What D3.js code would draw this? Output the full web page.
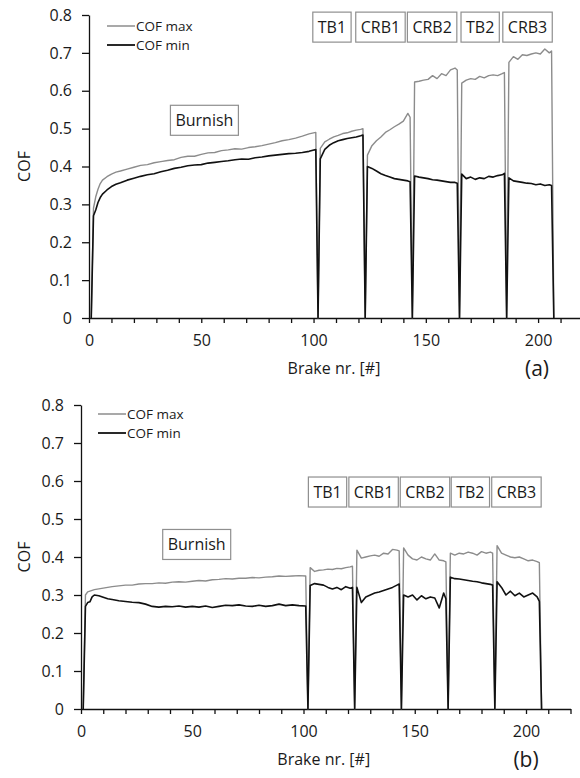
<!DOCTYPE html>
<meta charset="utf-8">
<style>
  body { margin: 0; background: #fff; }
</style>
<div id="container"></div>
<script src="https://cdn.jsdelivr.net/npm/d3@7"></script>
<script>

// brake numbers shared by both tests (0 values mark the breaks between sections)
const brakes = [
  1, 2, 3, 4, 5, 6, 8, 10, 12, 14, 17, 20, 23, 26, 29, 32, 35, 38, 41, 44, 47, 50, 53, 56, 59, 62, 65, 68, 71, 74, 77, 80, 83, 86, 89, 92, 95, 98, 101,
  102, 103, 105, 107, 109, 111, 113, 115, 117, 119, 121, 122,
  123, 124, 126, 128, 130, 132, 134, 136, 138, 140, 142, 143,
  144, 145, 147, 149, 151, 153, 155, 157, 159, 161, 163, 164,
  165, 166, 168, 170, 172, 174, 176, 178, 180, 182, 184, 185,
  186, 187, 189, 191, 193, 195, 197, 199, 201, 203, 205, 206,
  207
];

// (a)
const cofMaxA = [
  0, 0.29, 0.32, 0.34, 0.355, 0.364, 0.373, 0.38, 0.385, 0.388, 0.393, 0.398, 0.403, 0.405, 0.41, 0.413, 0.416, 0.418, 0.424, 0.427, 0.427, 0.432, 0.436, 0.437, 0.442, 0.444, 0.447, 0.446, 0.45, 0.452, 0.455, 0.459, 0.463, 0.468, 0.471, 0.475, 0.48, 0.486, 0.49,
  0, 0.448, 0.465, 0.472, 0.478, 0.482, 0.487, 0.489, 0.493, 0.496, 0.498, 0.5,
  0, 0.43, 0.455, 0.468, 0.478, 0.49, 0.497, 0.505, 0.512, 0.52, 0.54, 0.53,
  0, 0.623, 0.625, 0.628, 0.63, 0.64, 0.632, 0.645, 0.64, 0.655, 0.66, 0.655,
  0, 0.62, 0.628, 0.632, 0.63, 0.638, 0.634, 0.64, 0.642, 0.64, 0.645, 0.648,
  0, 0.675, 0.69, 0.683, 0.695, 0.693, 0.697, 0.7, 0.697, 0.71, 0.7, 0.705,
  0
];
const cofMinA = [
  0, 0.27, 0.285, 0.305, 0.318, 0.327, 0.338, 0.347, 0.353, 0.357, 0.364, 0.369, 0.374, 0.378, 0.381, 0.386, 0.39, 0.395, 0.398, 0.402, 0.404, 0.405, 0.409, 0.411, 0.413, 0.415, 0.418, 0.42, 0.419, 0.423, 0.425, 0.428, 0.43, 0.432, 0.434, 0.435, 0.437, 0.44, 0.445,
  0, 0.42, 0.445, 0.456, 0.463, 0.468, 0.471, 0.474, 0.476, 0.478, 0.481, 0.483,
  0, 0.4, 0.395, 0.388, 0.381, 0.376, 0.372, 0.368, 0.366, 0.364, 0.362, 0.36,
  0, 0.375, 0.372, 0.37, 0.368, 0.365, 0.364, 0.362, 0.36, 0.358, 0.358, 0.356,
  0, 0.38, 0.368, 0.372, 0.366, 0.37, 0.368, 0.374, 0.372, 0.376, 0.378, 0.382,
  0, 0.37, 0.362, 0.36, 0.358, 0.356, 0.355, 0.352, 0.354, 0.35, 0.352, 0.35,
  0
];

// (b)
const cofMaxB = [
  0, 0.3, 0.308, 0.31, 0.312, 0.314, 0.316, 0.318, 0.32, 0.322, 0.324, 0.326, 0.326, 0.329, 0.33, 0.33, 0.332, 0.331, 0.334, 0.335, 0.334, 0.336, 0.338, 0.337, 0.34, 0.341, 0.343, 0.342, 0.344, 0.344, 0.346, 0.345, 0.347, 0.348, 0.35, 0.349, 0.35, 0.351, 0.35,
  0, 0.372, 0.362, 0.365, 0.366, 0.368, 0.367, 0.37, 0.369, 0.372, 0.374, 0.376,
  0, 0.418, 0.397, 0.4, 0.403, 0.405, 0.402, 0.41, 0.408, 0.42, 0.418, 0.416,
  0, 0.424, 0.405, 0.395, 0.392, 0.4, 0.395, 0.392, 0.408, 0.392, 0.39, 0.387,
  0, 0.41, 0.405, 0.41, 0.408, 0.413, 0.41, 0.405, 0.414, 0.41, 0.413, 0.41,
  0, 0.43, 0.41, 0.405, 0.4, 0.398, 0.4, 0.395, 0.39, 0.392, 0.388, 0.385,
  0
];
const cofMinB = [
  0, 0.27, 0.28, 0.282, 0.295, 0.3, 0.298, 0.294, 0.29, 0.288, 0.285, 0.283, 0.281, 0.28, 0.276, 0.27, 0.268, 0.27, 0.269, 0.271, 0.268, 0.27, 0.268, 0.271, 0.267, 0.27, 0.273, 0.272, 0.274, 0.271, 0.27, 0.273, 0.27, 0.272, 0.276, 0.272, 0.274, 0.272, 0.271,
  0, 0.325, 0.33, 0.328, 0.326, 0.32, 0.316, 0.32, 0.314, 0.322, 0.318, 0.32,
  0, 0.32, 0.28, 0.295, 0.3, 0.305, 0.308, 0.312, 0.316, 0.32, 0.326, 0.329,
  0, 0.3, 0.295, 0.3, 0.287, 0.298, 0.29, 0.295, 0.292, 0.266, 0.305, 0.29,
  0, 0.347, 0.343, 0.342, 0.34, 0.338, 0.336, 0.335, 0.332, 0.33, 0.328, 0.326,
  0, 0.335, 0.32, 0.3, 0.31, 0.298, 0.305, 0.295, 0.3, 0.305, 0.295, 0.283,
  0
];

const sections = ["Burnish", "TB1", "CRB1", "CRB2", "TB2", "CRB3"];
const yTicks = [0, 0.1, 0.2, 0.3, 0.4, 0.5, 0.6, 0.7, 0.8];
const xTicks = d3.range(0, 221, 10);

const FONT = '"Open Sans", sans-serif';
const width = 580, height = 778;

const svg = d3.create("svg")
    .attr("width", width)
    .attr("height", height)
    .style("font-family", FONT);

container.append(svg.node());

// chart placement, section label spots are in data units
const charts = [
  { max: cofMaxA, min: cofMinA, xr: [89, 583], yr: [318, 15], tag: "(a)", tagX: 537, tagY: 368, titleY: 368,
    legX: 107, legY: 26,
    secX: [51.4, 108.2, 129.8, 152.8, 174.2, 195.3], secY: [0.522, 0.768, 0.768, 0.768, 0.768, 0.768] },
  { max: cofMaxB, min: cofMinB, xr: [81, 570.5], yr: [709, 405], tag: "(b)", tagX: 526, tagY: 759, titleY: 759,
    legX: 98, legY: 414,
    secX: [52, 110.8, 131.5, 154.6, 175, 195.7], secY: [0.433, 0.571, 0.571, 0.571, 0.571, 0.571] }
];

charts.forEach(c => {
  const x = d3.scaleLinear().domain([0, 220]).range(c.xr);
  const y = d3.scaleLinear().domain([0, 0.8]).range(c.yr);
  const g = svg.append("g");

  // y axis
  g.append("g")
      .attr("transform", `translate(${c.xr[0]},0)`)
      .call(d3.axisLeft(y).tickValues(yTicks).tickSize(7).tickSizeOuter(0).tickPadding(10)
        .tickFormat(d => String(+d.toFixed(1))))
      .call(a => a.selectAll("text").attr("font-size", 16).attr("font-family", FONT).attr("fill", "#1a1a1a"))
      .call(a => a.selectAll("line,path").attr("stroke", "#111").attr("stroke-width", 1.3));

  // x axis
  g.append("g")
      .attr("transform", `translate(0,${c.yr[0]})`)
      .call(d3.axisBottom(x).tickValues(xTicks).tickSize(5).tickSizeOuter(0).tickPadding(12)
        .tickFormat(d => d % 50 === 0 ? d : ""))
      .call(a => a.selectAll("text").attr("font-size", 16).attr("font-family", FONT).attr("fill", "#1a1a1a"))
      .call(a => a.selectAll("line,path").attr("stroke", "#111").attr("stroke-width", 1.3));

  const line = d3.line().x((d, i) => x(brakes[i])).y(d => y(d));

  g.append("path").datum(c.max)
      .attr("d", line).attr("fill", "none")
      .attr("stroke", "#8c8c8c").attr("stroke-width", 1.4).attr("stroke-linejoin", "round");
  g.append("path").datum(c.min)
      .attr("d", line).attr("fill", "none")
      .attr("stroke", "#111").attr("stroke-width", 1.6).attr("stroke-linejoin", "round");

  // axis titles
  const midY = (c.yr[0] + c.yr[1]) / 2;
  g.append("text")
      .attr("transform", `translate(24,${midY}) rotate(-90)`)
      .attr("text-anchor", "middle").attr("dominant-baseline", "central")
      .attr("font-size", 16).attr("fill", "#1a1a1a")
      .text("COF");
  g.append("text")
      .attr("x", (c.xr[0] + c.xr[1]) / 2 - 2).attr("y", c.titleY)
      .attr("text-anchor", "middle").attr("dominant-baseline", "central")
      .attr("font-size", 16).attr("fill", "#1a1a1a")
      .text("Brake nr. [#]");
  g.append("text")
      .attr("x", c.tagX).attr("y", c.tagY)
      .attr("text-anchor", "middle").attr("dominant-baseline", "central")
      .attr("font-size", 21).attr("fill", "#1a1a1a")
      .text(c.tag);

  // legend
  [["COF max", "#8c8c8c", 1.5], ["COF min", "#111", 1.8]].forEach(([name, col, w], i) => {
    const ly = c.legY + i * 19;
    g.append("line")
        .attr("x1", c.legX).attr("x2", c.legX + 28)
        .attr("y1", ly).attr("y2", ly)
        .attr("stroke", col).attr("stroke-width", w);
    g.append("text")
        .attr("x", c.legX + 29).attr("y", ly)
        .attr("dominant-baseline", "central")
        .attr("font-size", 13.5).attr("fill", "#1a1a1a")
        .text(name);
  });

  // section boxes
  sections.forEach((s, i) => {
    const cx = x(c.secX[i]), cy = y(c.secY[i]);
    const box = g.append("g");
    const rect = box.append("rect");
    const t = box.append("text")
        .attr("x", cx).attr("y", cy)
        .attr("text-anchor", "middle").attr("dominant-baseline", "central")
        .attr("font-size", 16).attr("fill", "#1a1a1a")
        .text(s);
    const w = t.node().getComputedTextLength() + 10;
    rect.attr("x", cx - w / 2).attr("y", cy - 15)
        .attr("width", w).attr("height", 30)
        .attr("fill", "#fff").attr("stroke", "#8f8f8f").attr("stroke-width", 1.2);
  });
});

</script>
